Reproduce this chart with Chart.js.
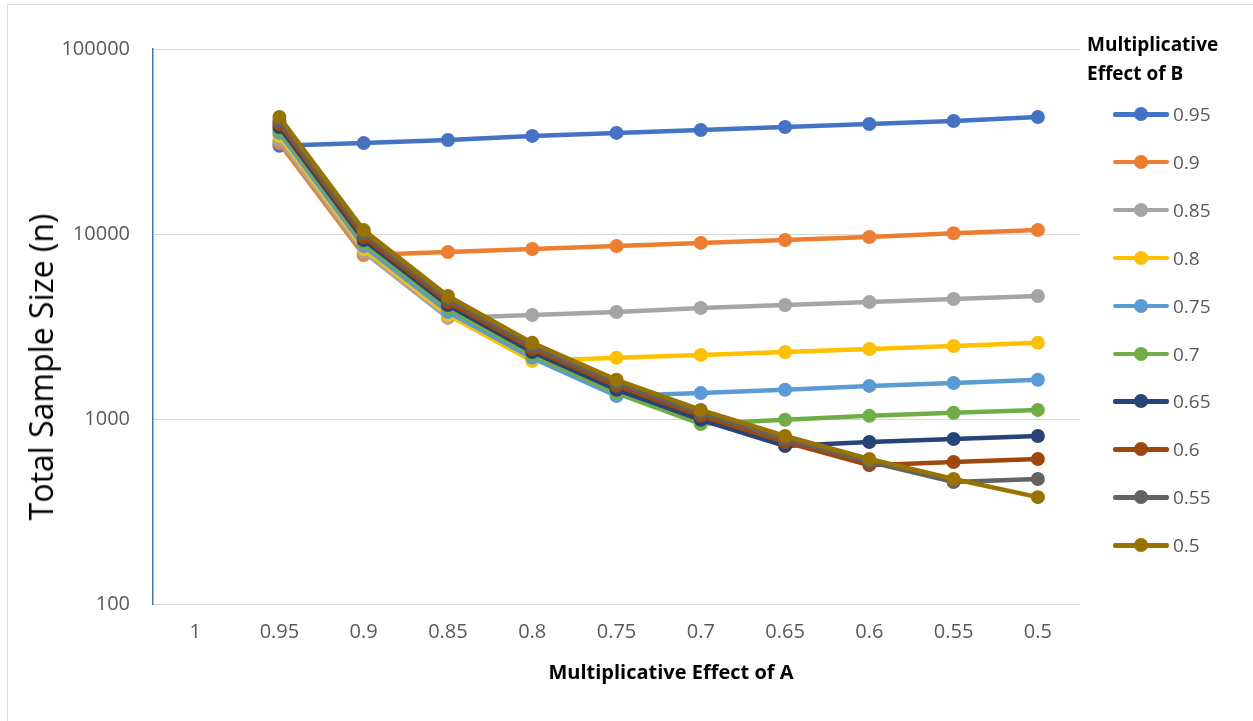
<!DOCTYPE html>
<html>
<head>
<meta charset="utf-8">
<script src="https://cdn.jsdelivr.net/npm/chart.js@4"></script>
<style>
  html, body { margin: 0; padding: 0; background: #fff; overflow: hidden; }
  #wrap { position: relative; width: 1253px; height: 721px; font-family: "Open Sans", "Liberation Sans", sans-serif; }
  #frame { position: absolute; left: 7px; top: 4px; width: 1300px; height: 800px;
           border-top: 1px solid #d9d9d9; border-left: 1px solid #d9d9d9; }
  #chart { position: absolute; left: 0; top: 0; }
  .axis-title { position: absolute; white-space: nowrap; color: #000; line-height: 1; }
  #xtitle { left: 671px; top: 672px; font-size: 20px; font-weight: bold; transform: translate(-50%, -50%); }
  #ytitle { left: 41px; top: 367px; font-size: 32px; transform: translate(-50%, -50%) rotate(-90deg); }
  #legend { position: absolute; left: 1087px; top: 30px; }
  #legend .title { font-weight: bold; font-size: 19px; line-height: 29px; color: #000; white-space: nowrap; }
  #legend .item { position: absolute; left: 26px; height: 20px; width: 140px; }
  #legend .line { position: absolute; left: 0; top: 8px; width: 56px; height: 4.5px; border-radius: 2px; }
  #legend .dot { position: absolute; left: 21px; top: 3px; width: 14px; height: 14px; border-radius: 7px; }
  #legend .lbl { position: absolute; left: 60px; top: -2px; font-size: 19px; line-height: 24px; color: #595959; }
</style>
</head>
<body>
<div id="wrap">
  <div id="frame"></div>
  <canvas id="chart" width="1253" height="721"></canvas>
  <div class="axis-title" id="ytitle">Total Sample Size (n)</div>
  <div class="axis-title" id="xtitle">Multiplicative Effect of A</div>
  <div id="legend"><div class="title">Multiplicative<br>Effect of B</div></div>
</div>
<script>
const categories = ['1', '0.95', '0.9', '0.85', '0.8', '0.75', '0.7', '0.65', '0.6', '0.55', '0.5'];
const seriesNames = ['0.95', '0.9', '0.85', '0.8', '0.75', '0.7', '0.65', '0.6', '0.55', '0.5'];
const yTicks = [100, 1000, 10000, 100000];

const b095 = [null, 30000, 31000, 32200, 33900, 35200, 36500, 37900, 39300, 40800, 42900];
const b090 = [null, 31000, 7700, 8000, 8300, 8600, 8950, 9280, 9640, 10100, 10500];
const b085 = [null, 32200, 8000, 3520, 3650, 3790, 3980, 4130, 4290, 4450, 4620];
const b080 = [null, 33900, 8300, 3650, 2060, 2140, 2220, 2300, 2390, 2480, 2580];
const b075 = [null, 35200, 8600, 3790, 2140, 1330, 1380, 1440, 1510, 1565, 1630];
const b070 = [null, 36500, 8950, 3980, 2220, 1380, 940, 990, 1040, 1080, 1120];
const b065 = [null, 37900, 9280, 4130, 2300, 1440, 990, 715, 751, 780, 810];
const b060 = [null, 39300, 9640, 4290, 2390, 1510, 1040, 751, 563, 586, 608];
const b055 = [null, 40800, 10100, 4450, 2480, 1565, 1080, 780, 586, 456, 474];
const b050 = [null, 42900, 10500, 4620, 2580, 1630, 1120, 810, 608, 474, 378];

const seriesValues = [b095, b090, b085, b080, b075, b070, b065, b060, b055, b050];
const COLORS = ['#4472C4', '#ED7D31', '#A5A5A5', '#FFC000', '#5B9BD5', '#70AD47', '#264478', '#9E480E', '#636363', '#997300'];

const FONT = '"Open Sans", "Liberation Sans", sans-serif';

// last series on top, like Excel
const datasets = seriesNames.map((name, i) => ({
    label: name,
    data: seriesValues[i],
    borderColor: COLORS[i],
    backgroundColor: COLORS[i],
    pointBackgroundColor: COLORS[i],
    pointBorderColor: COLORS[i],
    borderWidth: 4.5,
    pointRadius: 7,
    pointHoverRadius: 7,
    pointBorderWidth: 0,
    tension: 0,
    fill: false,
    order: seriesNames.length - i
}));

new Chart(document.getElementById('chart'), {
    type: 'line',
    data: { labels: categories, datasets },
    options: {
        responsive: false,
        animation: false,
        events: [],
        layout: { padding: { left: 0, top: 49, right: 173, bottom: 0 } },
        plugins: { legend: { display: false }, tooltip: { enabled: false } },
        scales: {
            x: {
                offset: true,
                grid: { display: false, drawTicks: false },
                border: { display: false },
                ticks: { color: '#595959', font: { family: FONT, size: 20 }, padding: 16, maxRotation: 0 },
                afterFit: s => { s.height = 117; }
            },
            y: {
                type: 'logarithmic',
                min: 100,
                max: 100000,
                afterBuildTicks: s => { s.ticks = yTicks.map(v => ({ value: v })); },
                grid: { color: '#d9d9d9', lineWidth: 1, drawTicks: false },
                border: { display: true, color: '#4472C4', width: 1.5 },
                ticks: { color: '#595959', font: { family: FONT, size: 20 }, padding: 23,
                         callback: v => String(v) },
                afterFit: s => { s.width = 153; }
            }
        }
    }
});

const legend = document.getElementById('legend');
seriesNames.forEach((name, i) => {
    const item = document.createElement('div');
    item.className = 'item';
    item.style.top = (74 + i * 47.9) + 'px';
    item.innerHTML = `<div class="line" style="background:${COLORS[i]}"></div>` +
        `<div class="dot" style="background:${COLORS[i]}"></div>` +
        `<div class="lbl">${name}</div>`;
    legend.appendChild(item);
});
</script>
</body>
</html>
